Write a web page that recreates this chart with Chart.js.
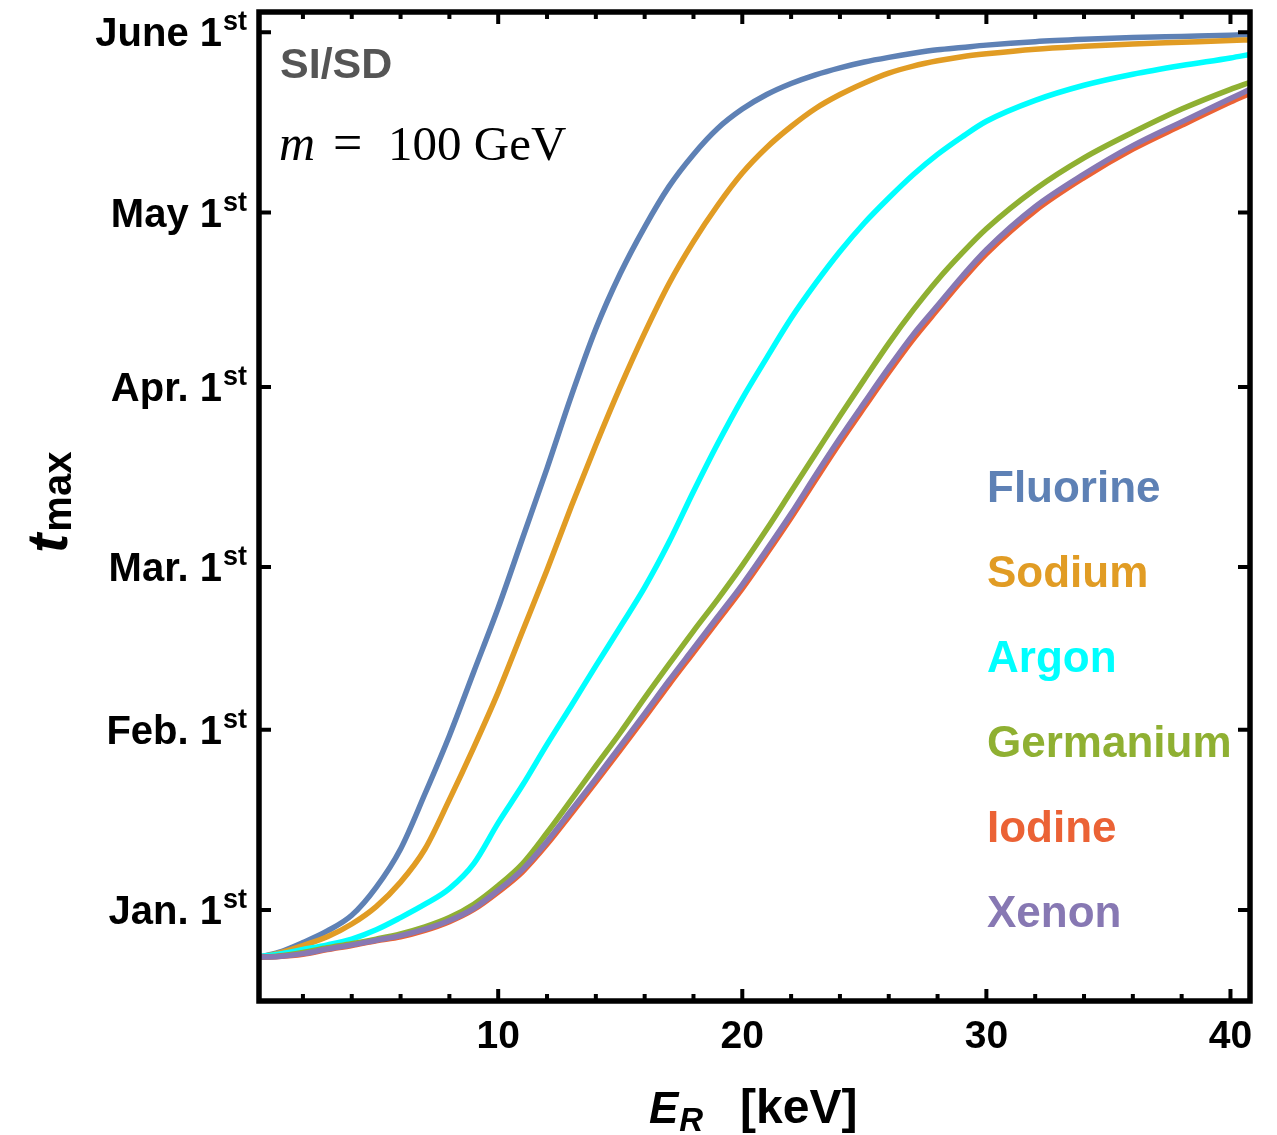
<!DOCTYPE html>
<html>
<head>
<meta charset="utf-8">
<script src="https://cdn.jsdelivr.net/npm/chart.js@4.4.1/dist/chart.umd.min.js"></script>
<style>
  html, body { margin: 0; padding: 0; background: #fff; }
  canvas { display: block; }
</style>
</head>
<body>
<canvas id="tmax" width="1277" height="1135"></canvas>
<script>
// recoil energy E_R [keV]
const energies = [0.2, 1, 2, 3, 4, 5, 6, 7, 8, 9, 10, 11, 12, 13, 14, 15, 16, 17, 18, 19, 20,
  21, 22, 23, 24, 25, 26, 27, 28, 29, 30, 32, 34, 36, 38, 40, 40.8];

// t_max in days after Jan. 1st
const fluorine = [-8.1, -7.3, -5.6, -3.6, -0.9, 3.9, 10.5, 20, 30, 41, 52, 64, 76, 88.5, 100, 109.5, 117.5,
  124.5, 130, 134.5, 137.8, 140.3, 142.2, 143.7, 144.9, 145.9, 146.7, 147.4, 148, 148.4, 148.8, 149.4,
  149.8, 150.1, 150.3, 150.5, 150.6];
const sodium = [-8.1, -7.4, -6.1, -4.6, -2.4, 0.6, 4.8, 10.5, 19, 28, 37.5, 48, 58.5, 69.5, 80, 90, 99.3,
  107.8, 115, 121.3, 126.8, 131.2, 134.8, 137.9, 140.3, 142.3, 144, 145.2, 146.1, 146.8, 147.3, 148.1,
  148.6, 149, 149.3, 149.6, 149.7];
const argon = [-8.0, -7.6, -6.8, -6.0, -5.0, -3.4, -1.3, 1.0, 3.7, 8.0, 15.0, 21.5, 28.5, 35.2, 42, 48.7, 55.5,
  63.3, 72, 80.3, 88, 95, 101.8, 107.8, 113.3, 118.2, 122.5, 126.5, 130, 133, 135.7, 139.3, 141.9, 143.8,
  145.3, 146.6, 147.2];
const germanium = [-8.1, -7.9, -7.3, -6.5, -5.8, -5.0, -4.1, -2.9, -1.3, 1.0, 4.2, 8.0, 13.3, 19.0, 24.8, 30.5,
  36.5, 42.3, 48, 53.5, 59.3, 65.5, 72, 78.5, 85, 91.3, 97.5, 103.2, 108.4, 113, 117.2, 124, 129.4, 133.8,
  137.8, 141.2, 142.4];
const iodine = [-8.1, -8.0, -7.6, -6.8, -6.1, -5.3, -4.6, -3.5, -2.0, 0.1, 3.1, 6.6, 11.3, 16.6, 22.0, 27.5,
  33.1, 38.8, 44.3, 49.8, 55.3, 61.3, 67.5, 74, 80.4, 86.5, 92.5, 98.2, 103.3, 108.3, 112.9, 120.3, 126,
  130.9, 135, 139, 140.5];
const xenon = [-8.1, -8.0, -7.5, -6.7, -6.0, -5.2, -4.4, -3.3, -1.8, 0.3, 3.4, 7.0, 11.8, 17.2, 22.6, 28.2,
  33.8, 39.5, 45, 50.5, 56, 62, 68.2, 74.8, 81.2, 87.3, 93.3, 99, 104, 109, 113.6, 121, 126.6, 131.5,
  135.6, 139.6, 141.2];

const targets = ['Fluorine', 'Sodium', 'Argon', 'Germanium', 'Iodine', 'Xenon'];
const colors = ['#5E81B5', '#E19C24', '#00FFFF', '#8FB032', '#EB6235', '#8778B3'];
const series = [fluorine, sodium, argon, germanium, iodine, xenon];

// axis ticks
const monthDays = [0, 31, 59, 90, 120, 151];
const monthLabels = ['Jan. 1', 'Feb. 1', 'Mar. 1', 'Apr. 1', 'May 1', 'June 1'];
const xMajorTicks = [10, 20, 30, 40];
const xMinorTicks = [2, 4, 6, 8, 12, 14, 16, 18, 22, 24, 26, 28, 32, 34, 36, 38];

const SANS = '"Liberation Sans", Arial, sans-serif';
const SERIF = '"Liberation Serif", "Times New Roman", serif';

const framePlugin = {
  id: 'frame',
  afterDatasetsDraw(chart) {
    const { ctx, chartArea: a, scales: { x, y } } = chart;
    ctx.save();

    // inward ticks on all four sides
    ctx.strokeStyle = '#000';
    ctx.lineWidth = 4;
    ctx.beginPath();
    xMinorTicks.forEach(v => {
      const px = x.getPixelForValue(v);
      ctx.moveTo(px, a.bottom); ctx.lineTo(px, a.bottom - 7);
      ctx.moveTo(px, a.top); ctx.lineTo(px, a.top + 7);
    });
    xMajorTicks.forEach(v => {
      const px = x.getPixelForValue(v);
      ctx.moveTo(px, a.bottom); ctx.lineTo(px, a.bottom - 12);
      ctx.moveTo(px, a.top); ctx.lineTo(px, a.top + 12);
    });
    monthDays.forEach(v => {
      const py = y.getPixelForValue(v);
      ctx.moveTo(a.left, py); ctx.lineTo(a.left + 12, py);
      ctx.moveTo(a.right, py); ctx.lineTo(a.right - 12, py);
    });
    ctx.stroke();

    ctx.lineWidth = 5.5;
    ctx.strokeRect(a.left, a.top, a.right - a.left, a.bottom - a.top);

    ctx.fillStyle = '#000';
    ctx.textBaseline = 'alphabetic';

    // x tick labels
    ctx.font = 'bold 39px ' + SANS;
    ctx.textAlign = 'center';
    xMajorTicks.forEach(v => {
      ctx.fillText(String(v), x.getPixelForValue(v), 1048);
    });

    // y tick labels with superscript "st"
    monthDays.forEach((v, i) => {
      const py = y.getPixelForValue(v);
      ctx.textAlign = 'right';
      ctx.font = 'bold 27px ' + SANS;
      const supW = ctx.measureText('st').width;
      ctx.fillText('st', 247, py - 2);
      ctx.font = 'bold 40px ' + SANS;
      ctx.fillText(monthLabels[i], 247 - supW - 1, py + 14);
    });

    // x axis title
    ctx.textAlign = 'left';
    ctx.font = 'italic bold 44px ' + SANS;
    ctx.fillText('E', 649, 1123);
    const eW = ctx.measureText('E').width;
    ctx.font = 'italic bold 33px ' + SANS;
    ctx.fillText('R', 649 + eW + 1, 1131);
    ctx.font = 'bold 48px ' + SANS;
    ctx.fillText('[keV]', 740, 1123);

    // y axis title
    ctx.save();
    ctx.translate(67, 553);
    ctx.rotate(-Math.PI / 2);
    ctx.font = 'italic bold 58px ' + SANS;
    ctx.fillText('t', 0, 0);
    const tW = ctx.measureText('t').width;
    ctx.font = 'bold 40px ' + SANS;
    ctx.fillText('max', tW + 2, 4);
    ctx.restore();

    // annotations
    ctx.fillStyle = '#555555';
    ctx.font = 'bold 43px ' + SANS;
    ctx.fillText('SI/SD', 280, 78);

    ctx.fillStyle = '#000';
    ctx.font = 'italic 50px ' + SERIF;
    ctx.fillText('m', 279, 160);
    ctx.font = '52px ' + SERIF;
    ctx.fillText('=', 333, 160);
    ctx.font = '49px ' + SERIF;
    ctx.fillText('100 GeV', 388, 160);

    // coloured labels
    ctx.font = 'bold 44px ' + SANS;
    targets.forEach((name, i) => {
      ctx.fillStyle = colors[i];
      ctx.fillText(name, 987, 502 + i * 85);
    });

    ctx.restore();
  }
};

new Chart(document.getElementById('tmax'), {
  type: 'line',
  data: {
    labels: energies,
    datasets: targets.map((name, i) => ({
      label: name,
      data: energies.map((e, k) => ({ x: e, y: series[i][k] })),
      borderColor: colors[i],
      borderWidth: 5.5,
      pointRadius: 0,
      fill: false,
      tension: 0.4,
      cubicInterpolationMode: 'monotone',
      order: targets.length - i
    }))
  },
  options: {
    responsive: false,
    animation: false,
    devicePixelRatio: 1,
    layout: { padding: { left: 259, top: 12, right: 27, bottom: 134 } },
    scales: {
      x: { type: 'linear', min: 0.2, max: 40.8, display: false },
      y: { type: 'linear', min: -15.65, max: 154.5, display: false }
    },
    plugins: {
      legend: { display: false },
      tooltip: { enabled: false }
    }
  },
  plugins: [framePlugin]
});
</script>
</body>
</html>
